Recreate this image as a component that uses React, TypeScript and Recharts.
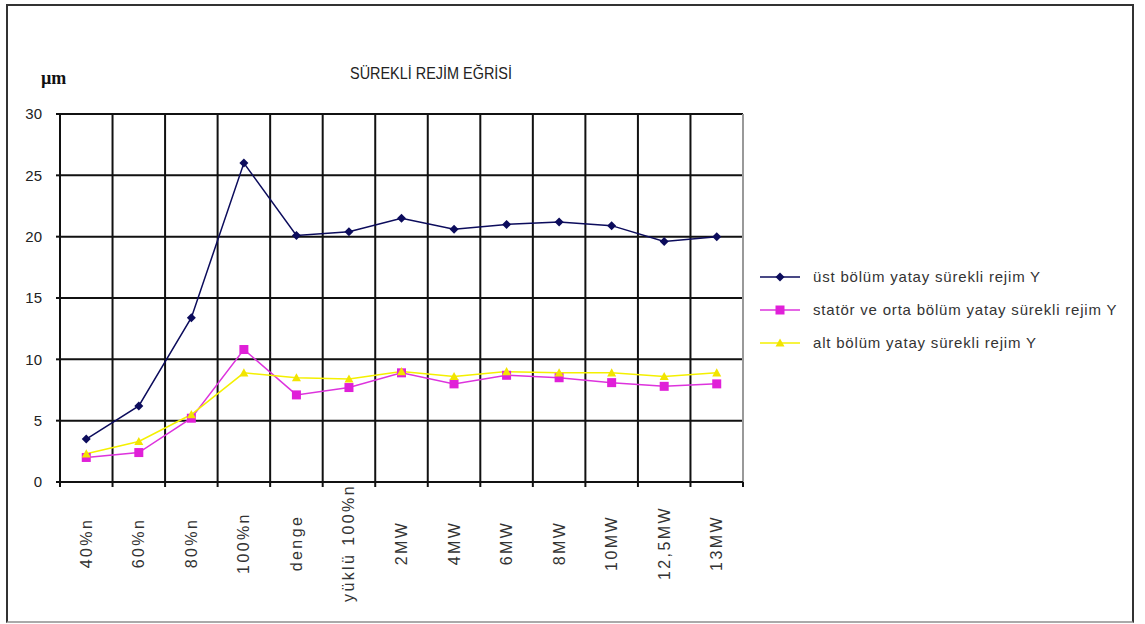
import React from "react";
import { LineChart, Line, XAxis, YAxis, CartesianGrid, Legend, ReferenceLine } from "recharts";

// x categories (load steps) and the three measured series, in µm
const categories = ["40%n", "60%n", "80%n", "100%n", "denge", "yüklü 100%n", "2MW", "4MW", "6MW", "8MW", "10MW", "12,5MW", "13MW"];
const ustBolum = [3.5, 6.2, 13.4, 26.0, 20.1, 20.4, 21.5, 20.6, 21.0, 21.2, 20.9, 19.6, 20.0];
const statorOrta = [2.0, 2.4, 5.2, 10.8, 7.1, 7.7, 8.9, 8.0, 8.7, 8.5, 8.1, 7.8, 8.0];
const altBolum = [2.3, 3.3, 5.5, 8.9, 8.5, 8.4, 9.0, 8.6, 9.0, 8.9, 8.9, 8.6, 8.9];
const yTicks = [0, 5, 10, 15, 20, 25, 30];

const seriesOrder = ["ust", "stator", "alt"];
const seriesNames: Record<string, string> = {
  ust: "üst bölüm yatay sürekli rejim Y",
  stator: "statör ve orta bölüm yatay sürekli rejim Y",
  alt: "alt bölüm yatay sürekli rejim Y",
};

const data = categories.map((name, i) => ({
  pos: i + 0.5,
  name,
  ust: ustBolum[i],
  stator: statorOrta[i],
  alt: altBolum[i],
}));

const boundaryTicks = [...categories.map((_, i) => i), categories.length];
const centerTicks = data.map(d => d.pos);

const BLUE = "#0c0c5c";
const MAGENTA = "#dd33dd";
const YELLOW = "#f4f000";

const font = "'Liberation Sans', Arial, sans-serif";

function diamond(cx: number, cy: number, r: number) {
  return `M${cx},${cy - r}L${cx + r},${cy}L${cx},${cy + r}L${cx - r},${cy}Z`;
}
function triangle(cx: number, cy: number, r: number) {
  return `M${cx},${cy - r}L${cx + r},${cy + r * 0.8}L${cx - r},${cy + r * 0.8}Z`;
}

const marker = (kind: string, cx: number, cy: number, key?: string) => {
  if (kind === "ust") return <path key={key} d={diamond(cx, cy, 4.5)} fill={BLUE} />;
  if (kind === "stator") return <rect key={key} x={cx - 4.5} y={cy - 4.5} width={9} height={9} fill="#e020d8" />;
  return <path key={key} d={triangle(cx, cy, 4.5)} fill="#f2e400" />;
};

const dotFor = (kind: string) => (p: any) => marker(kind, p.cx, p.cy, `${kind}-${p.index}`);

const EmptyTick = () => <g />;

function CatTick(props: any) {
  const { x, y, payload } = props;
  const label = categories[Math.floor(payload.value)];
  const cy = y + 56;
  return (
    <text
      x={x}
      y={cy}
      transform={`rotate(-90 ${x} ${cy})`}
      textAnchor="middle"
      dominantBaseline="central"
      fontFamily={font}
      fontSize={16}
      letterSpacing={2.4}
      fill="#333"
    >
      {label}
    </text>
  );
}

function renderLegend(props: any) {
  const entries = [...props.payload].sort(
    (a: any, b: any) => seriesOrder.indexOf(a.dataKey) - seriesOrder.indexOf(b.dataKey)
  );
  return (
    <div>
      {entries.map((entry: any) => (
        <div key={entry.dataKey} style={{ display: "flex", alignItems: "center", height: 33 }}>
          <svg width={56} height={14}>
            <line x1={3} y1={7} x2={43} y2={7} stroke={entry.color} strokeWidth={1.5} />
            {marker(entry.dataKey, 23, 7)}
          </svg>
          <span style={{ fontFamily: font, fontSize: 15, letterSpacing: 0.8, color: "#333", whiteSpace: "nowrap" }}>
            {entry.value}
          </span>
        </div>
      ))}
    </div>
  );
}

export default function App() {
  return (
    <div style={{ position: "absolute", left: 0, top: 0, width: 1145, height: 624, background: "#fff" }}>
      <div
        style={{
          position: "absolute",
          left: 6,
          top: 4,
          width: 1128,
          height: 619,
          boxSizing: "border-box",
          borderTop: "2px solid #333",
          borderLeft: "2px solid #333",
          borderRight: "2px solid #333",
          borderBottom: "2px solid #aaa",
        }}
      />
      <svg width={1145} height={624} style={{ position: "absolute", left: 0, top: 0 }}>
        <text x={350} y={79} textLength={162} lengthAdjust="spacingAndGlyphs" fontFamily={font} fontSize={17} fill="#222">
          SÜREKLİ REJİM EĞRİSİ
        </text>
        <text x={41} y={84} fontFamily="'Liberation Serif', serif" fontWeight="bold" fontSize={18} fill="#111">
          µm
        </text>
      </svg>
      <div style={{ position: "absolute", left: 0, top: 0 }}>
        <LineChart width={1145} height={624} data={data} margin={{ top: 114, right: 402, bottom: 0, left: 10 }}>
          <CartesianGrid xAxisId="grid" stroke="#111" strokeWidth={2} />
          <XAxis
            xAxisId="grid"
            type="number"
            dataKey="pos"
            domain={[0, categories.length]}
            ticks={boundaryTicks}
            interval={0}
            tick={EmptyTick}
            tickSize={5}
            height={5}
            axisLine={{ stroke: "#111", strokeWidth: 2 }}
            tickLine={{ stroke: "#111", strokeWidth: 2 }}
          />
          <XAxis
            xAxisId="lab"
            type="number"
            dataKey="pos"
            domain={[0, categories.length]}
            ticks={centerTicks}
            interval={0}
            tick={<CatTick />}
            tickSize={0}
            tickMargin={0}
            height={137}
            axisLine={false}
            tickLine={false}
          />
          <YAxis
            domain={[0, 30]}
            ticks={yTicks}
            width={50}
            tickSize={4}
            tickMargin={14}
            tick={{ fill: "#222", fontSize: 15, fontFamily: font }}
            axisLine={{ stroke: "#111", strokeWidth: 2 }}
            tickLine={{ stroke: "#111", strokeWidth: 2 }}
          />
          <ReferenceLine xAxisId="grid" x={categories.length} stroke="#999" strokeWidth={2} />
          <Legend
            layout="vertical"
            align="center"
            verticalAlign="middle"
            content={renderLegend}
            wrapperStyle={{ position: "absolute", left: 757, top: 260, width: 385 }}
          />
          <Line
            xAxisId="grid"
            dataKey="ust"
            name={seriesNames.ust}
            stroke={BLUE}
            strokeWidth={1.5}
            dot={dotFor("ust")}
            activeDot={false}
            isAnimationActive={false}
          />
          <Line
            xAxisId="grid"
            dataKey="stator"
            name={seriesNames.stator}
            stroke={MAGENTA}
            strokeWidth={1.5}
            dot={dotFor("stator")}
            activeDot={false}
            isAnimationActive={false}
          />
          <Line
            xAxisId="grid"
            dataKey="alt"
            name={seriesNames.alt}
            stroke={YELLOW}
            strokeWidth={1.5}
            dot={dotFor("alt")}
            activeDot={false}
            isAnimationActive={false}
          />
        </LineChart>
      </div>
    </div>
  );
}
